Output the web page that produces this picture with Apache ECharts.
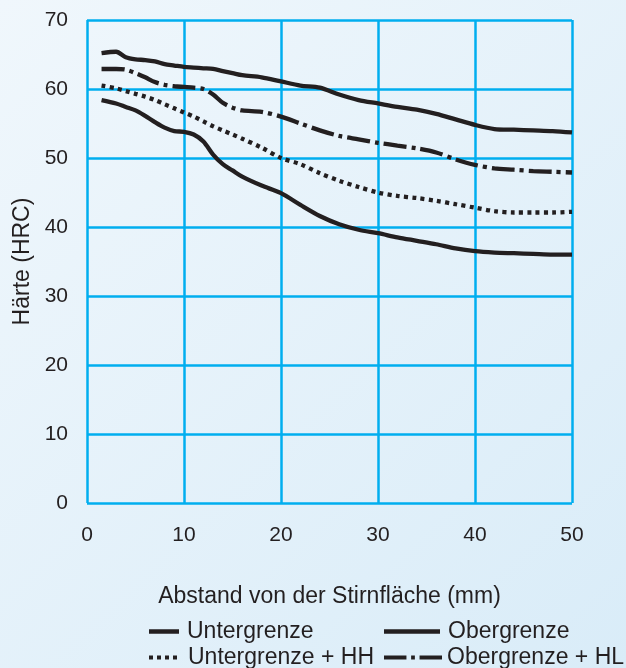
<!DOCTYPE html>
<html><head><meta charset="utf-8">
<script src="https://cdn.jsdelivr.net/npm/echarts@6/dist/echarts.min.js"></script>
<style>html,body{margin:0;padding:0;}#c{width:626px;height:668px;}</style>
</head><body><div id="c"></div>
<script>
const distance = [1.5,3,4,5,6,7,8,9,10,11,12,13,14,15,16,18,20,22,24,26,28,30,32,34,36,38,40,42,44,46,48,50];
const obergrenze = [65.2,65.4,64.6,64.3,64.2,64.0,63.6,63.4,63.2,63.1,63.0,62.9,62.6,62.3,62.0,61.7,61.1,60.5,60.2,59.2,58.4,57.9,57.4,57.0,56.4,55.6,54.8,54.2,54.1,54.0,53.9,53.7];
const obergrenzeHL = [62.9,62.9,62.8,62.3,61.7,61.0,60.6,60.4,60.3,60.2,60.0,59.2,58.0,57.3,56.9,56.7,56.0,55.0,54.0,53.2,52.7,52.2,51.8,51.4,50.8,49.8,49.0,48.5,48.3,48.1,48.0,47.9];
const untergrenzeHH = [60.5,60.1,59.7,59.3,58.9,58.4,57.8,57.2,56.6,56.0,55.3,54.6,54.0,53.4,52.8,51.5,50.0,49.1,47.8,46.7,45.8,45.0,44.5,44.2,43.8,43.3,42.8,42.3,42.1,42.1,42.1,42.2];
const untergrenze = [58.4,57.9,57.4,56.9,56.1,55.2,54.4,53.9,53.8,53.4,52.4,50.5,49.1,48.2,47.3,46.0,44.9,43.2,41.6,40.4,39.6,39.1,38.5,38.0,37.5,36.9,36.5,36.3,36.2,36.1,36.0,36.0];
const seriesNames = ['Untergrenze','Obergrenze','Untergrenze + HH','Obergrenze + HL'];
const xTitle = 'Abstand von der Stirnfläche (mm)';
const yTitle = 'Härte (HRC)';

const ink = '#231F20';
const font = 'Liberation Sans, Arial, sans-serif';
const pairs = arr => distance.map((d,i)=>[d, arr[i]]);
function line(name, arr, type){
  return {name, type:'line', data:pairs(arr), symbol:'none', smooth:0.3,
    lineStyle:{color:ink, width:4.3, type:type, cap:'butt'}, itemStyle:{color:ink}};
}
const chart = echarts.init(document.getElementById('c'));
function leg(name, left, top, w, icon, padLeft){
  return {data:[{name, icon}], left, top, itemWidth:w, itemHeight:4.5,
    orient:'horizontal', selectedMode:false, padding:0, itemGap:0,
    textStyle:{color:ink, fontSize:23, fontFamily:font, padding:[0,0,0,padLeft]}};
}
const iconSolid = 'path://M0,0h30v4.5h-30z';
const iconSolidLong = 'path://M0,0h56v4.5h-56z';
const iconDots = 'path://M0,0h4v4h-4z M8,0h4v4h-4z M16,0h4v4h-4z M24,0h4v4h-4z';
const iconDashDot = 'path://M0,0h24v4.5h-24z M29,0h4v4.5h-4z M38,0h24v4.5h-24z';
chart.setOption({
  backgroundColor: new echarts.graphic.LinearGradient(0,0,1,1,[{offset:0,color:'#F0F7FC'},{offset:1,color:'#D9ECF8'}]),
  animation:false,
  grid:{left:87, right:54, top:20, bottom:165},
  xAxis:{type:'value', min:0, max:50, interval:10,
    name:xTitle, nameLocation:'middle', nameGap:82,
    nameTextStyle:{color:ink, fontSize:23, fontFamily:font},
    axisLine:{show:false}, axisTick:{show:false},
    axisLabel:{color:ink, fontSize:21, fontFamily:font, margin:22},
    splitLine:{show:true, lineStyle:{color:'#00AEEF', width:2.5}}},
  yAxis:{type:'value', min:0, max:70, interval:10,
    name:yTitle, nameLocation:'middle', nameGap:51, nameRotate:90,
    nameTextStyle:{color:ink, fontSize:23, fontFamily:font},
    axisLine:{show:false}, axisTick:{show:false},
    axisLabel:{color:ink, fontSize:21, fontFamily:font, margin:19},
    splitLine:{show:true, lineStyle:{color:'#00AEEF', width:2.5}}},
  legend:[
    leg(seriesNames[0], 149, 620, 30, iconSolid, 3),
    leg(seriesNames[1], 384, 620, 56, iconSolidLong, 3),
    leg(seriesNames[2], 149, 646, 28, iconDots, 6),
    leg(seriesNames[3], 384, 646, 58, iconDashDot, 0)
  ],
  series:[
    line(seriesNames[0], untergrenze, 'solid'),
    line(seriesNames[1], obergrenze, 'solid'),
    line(seriesNames[2], untergrenzeHH, [4,4.3]),
    line(seriesNames[3], obergrenzeHL, [23,5,4,5])
  ]
});
</script></body></html>
